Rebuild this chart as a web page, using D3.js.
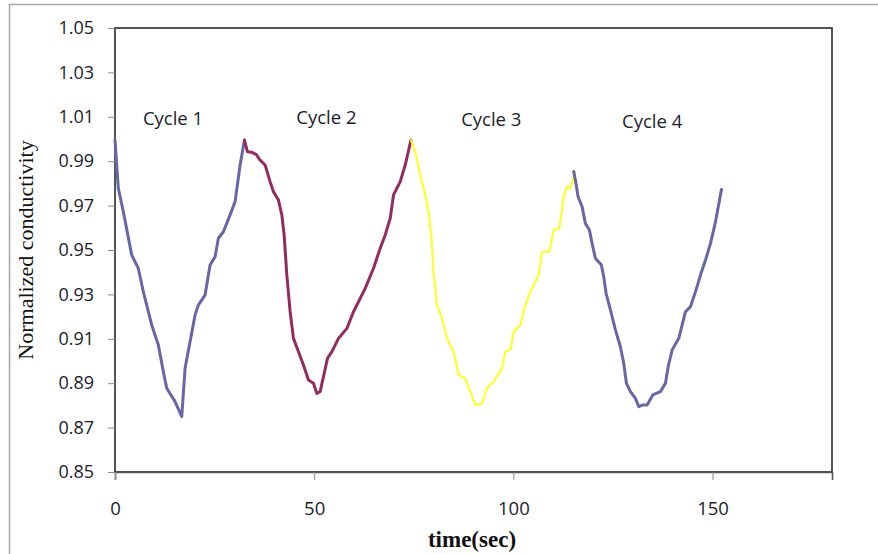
<!DOCTYPE html>
<html>
<head>
<meta charset="utf-8">
<script src="https://cdn.jsdelivr.net/npm/d3@7"></script>
<style>
  body { margin: 0; background: #fff; }
  svg { display: block; }
</style>
</head>
<body>
<script>
// values: [time (sec), normalized conductivity]
var cycle1 = [[0,0.9996],[0.83,0.9778],[2.09,0.9673],[4.2,0.9477],[5.85,0.9418],[7.11,0.9312],
  [7.96,0.9252],[9.22,0.9162],[10.88,0.9072],[12.14,0.8952],[12.99,0.8877],[15.08,0.8817],
  [16.76,0.8749],[17.59,0.8967],[18.84,0.9087],[20.1,0.9207],[20.93,0.9252],[22.61,0.9297],
  [23.87,0.9432],[25.13,0.947],[25.95,0.9553],[27.21,0.9582],[28.89,0.9658],[30.15,0.9718],
  [31.41,0.9883],[32.5,0.9995]];
var cycle2 = [[32.5,0.9995],[33.24,0.9943],[34.35,0.994],[35.43,0.9931],[36.43,0.9905],[37.69,0.9883],
  [38.94,0.9808],[39.77,0.9763],[41.03,0.9725],[41.88,0.9658],[42.46,0.9568],[43.14,0.9387],
  [43.97,0.9222],[44.8,0.9102],[46.06,0.9042],[47.31,0.8982],[48.57,0.8914],[49.82,0.89],
  [50.68,0.8854],[51.51,0.8862],[53.34,0.9012],[54.45,0.9042],[56.11,0.9102],[58.22,0.9147],
  [59.87,0.9222],[61.13,0.9267],[62.81,0.9327],[64.9,0.9418],[66.58,0.9508],[67.84,0.9568],
  [69.1,0.9643],[69.92,0.9748],[71.61,0.9808],[72.86,0.9883],[74.3,0.9995]];
var cycle3 = [[74.3,0.9995],[75.38,0.9943],[76.63,0.9838],[77.89,0.9748],[78.72,0.9673],[79.4,0.9568],
  [79.97,0.9402],[80.83,0.9252],[82.09,0.9192],[83.34,0.9102],[85,0.9042],[86.26,0.8937],
  [87.94,0.8922],[89.2,0.8862],[90.45,0.8802],[92.14,0.8809],[93.39,0.8877],[95.05,0.8907],
  [97.16,0.8967],[97.99,0.9042],[99.25,0.905],[100.08,0.9132],[101.76,0.9162],[103.02,0.9252],
  [104.27,0.9312],[106.36,0.9387],[107.21,0.9492],[109.05,0.9492],[110.13,0.959],[111.56,0.9598],
  [112.64,0.974],[113.49,0.9785],[114.32,0.9778],[115.58,0.9853]];
var cycle4 = [[115.15,0.9853],[115.58,0.9815],[116.26,0.974],[117.26,0.9695],[118.09,0.962],[119.1,0.959],
  [119.77,0.953],[120.6,0.9463],[122.11,0.9432],[122.69,0.938],[123.29,0.9305],[124.37,0.923],
  [125.63,0.914],[126.88,0.9064],[127.71,0.899],[128.39,0.89],[129.4,0.8862],[130.65,0.8832],
  [131.48,0.8794],[132.49,0.8802],[133.59,0.8802],[135,0.8847],[136.93,0.8862],[138.19,0.89],
  [138.87,0.8974],[139.87,0.905],[141.53,0.9102],[143.22,0.9222],[144.47,0.9245],[145.73,0.9312],
  [146.98,0.9387],[148.24,0.9455],[149.5,0.953],[150.75,0.9627],[152.26,0.9773]];

var seriesColors = ["#6767a7", "#922c60", "#ffff1a", "#6767a7"];
var seriesWidths = [3, 3, 2, 3];

var xTicks = [0, 50, 100, 150];
var yTicks = [0.85, 0.87, 0.89, 0.91, 0.93, 0.95, 0.97, 0.99, 1.01, 1.03, 1.05];

var cycleNames = ["Cycle 1", "Cycle 2", "Cycle 3", "Cycle 4"];
var cycleX = [7.0, 45.5, 86.9, 127.3];
var cycleY = [1.0063, 1.0068, 1.0059, 1.0048];

function drawChart() {
    var W = 878, H = 554;
    var plotL = 115, plotR = 832, plotT = 28, plotB = 472;

    var svg = d3.select("body").append("svg")
        .attr("width", W)
        .attr("height", H);

    // outer chart frame (only top and left edges show)
    svg.append("path")
        .attr("d", "M9.5," + H + "V4.5H" + W)
        .attr("fill", "none")
        .attr("stroke", "#a8a8a8")
        .attr("stroke-width", 1.5);

    var x = d3.scaleLinear().domain([0, 180]).range([plotL, plotR]);
    var y = d3.scaleLinear().domain([0.85, 1.05]).range([plotB, plotT]);

    // plot frame
    svg.append("rect")
        .attr("x", plotL).attr("y", plotT)
        .attr("width", plotR - plotL).attr("height", plotB - plotT)
        .attr("fill", "none")
        .attr("stroke", "#2a2a2a")
        .attr("stroke-width", 1.6);

    // y axis
    var yAxis = svg.append("g")
        .attr("transform", "translate(" + plotL + ",0)")
        .call(d3.axisLeft(y).tickValues(yTicks).tickFormat(d3.format(".2f")).tickSize(7).tickPadding(14));
    yAxis.select(".domain").remove();
    yAxis.selectAll(".tick line").attr("stroke", "#8a8a8a");
    yAxis.selectAll("text")
        .attr("font-family", "'Open Sans', sans-serif")
        .attr("font-size", 18)
        .attr("fill", "#1c1c2a");

    // x axis
    var xAxis = svg.append("g")
        .attr("transform", "translate(0," + plotB + ")")
        .call(d3.axisBottom(x).tickValues(xTicks).tickFormat(d3.format("d")).tickSize(8).tickPadding(22));
    xAxis.select(".domain").attr("stroke", "#555").attr("stroke-width", 1.6);
    xAxis.selectAll(".tick line").attr("stroke", "#8a8a8a");
    xAxis.selectAll("text")
        .attr("font-family", "'Open Sans', sans-serif")
        .attr("font-size", 18.5)
        .attr("fill", "#1c1c2a");

    // axis titles
    svg.append("text")
        .attr("transform", "translate(33,250) rotate(-90)")
        .attr("text-anchor", "middle")
        .attr("font-family", "'Liberation Serif', 'Times New Roman', serif")
        .attr("font-size", 22)
        .attr("fill", "#111")
        .text("Normalized conductivity");

    svg.append("text")
        .attr("x", 472).attr("y", 547)
        .attr("text-anchor", "middle")
        .attr("font-family", "'Liberation Serif', 'Times New Roman', serif")
        .attr("font-weight", "bold")
        .attr("font-size", 23)
        .attr("fill", "#111")
        .text("time(sec)");

    // the four cycles
    var line = d3.line()
        .x(function(d) { return x(d[0]); })
        .y(function(d) { return y(d[1]); });

    var cycles = [cycle1, cycle2, cycle3, cycle4];
    svg.append("g").selectAll("path")
        .data(cycles)
        .enter()
        .append("path")
        .attr("d", line)
        .attr("fill", "none")
        .attr("stroke", function(d, i) { return seriesColors[i]; })
        .attr("stroke-width", function(d, i) { return seriesWidths[i]; })
        .attr("stroke-linejoin", "round")
        .attr("stroke-linecap", "round");

    // cycle labels
    svg.append("g").selectAll("text")
        .data(cycleNames)
        .enter()
        .append("text")
        .attr("x", function(d, i) { return x(cycleX[i]); })
        .attr("y", function(d, i) { return y(cycleY[i]); })
        .attr("font-family", "'Open Sans', sans-serif")
        .attr("font-size", 18.5)
        .attr("fill", "#1c1c2a")
        .text(function(d) { return d; });
}

drawChart();
</script>
</body>
</html>
